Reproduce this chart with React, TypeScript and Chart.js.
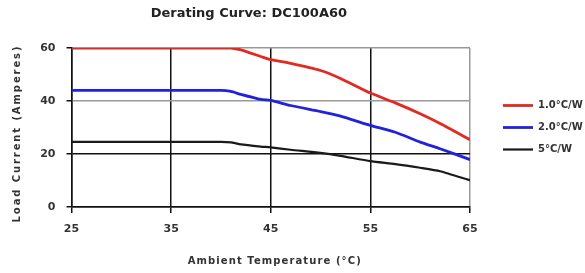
import React, { useEffect, useRef } from "react";
import { Chart, registerables } from "chart.js";

Chart.register(...registerables);

const TITLE = "Derating Curve: DC100A60";
const X_TITLE = "Ambient Temperature (°C)";
const Y_TITLE = "Load Current (Amperes)";

const temps = [25, 35, 40, 41, 42, 44, 45, 47, 50, 52, 55, 57.5, 60, 62, 65];
const series1Label = "1.0°C/W";
const series1 = [60, 60, 60, 60, 59.3, 56.8, 55.6, 54.2, 51.5, 48.5, 43, 39.3, 35.2, 31.5, 25.4];
const series2Label = "2.0°C/W";
const series2 = [44, 44, 44, 43.6, 42.5, 40.6, 40.2, 38.3, 36, 34.3, 30.8, 28.2, 24.5, 22, 17.9];
const series3Label = "5°C/W";
const series3 = [24.6, 24.6, 24.6, 24.4, 23.6, 22.8, 22.5, 21.6, 20.4, 19.3, 17.3, 16.2, 14.8, 13.5, 10.1];

const xTicks = [25, 35, 45, 55, 65];
const yTicks = [0, 20, 40, 60];

const FONT = "'DejaVu Sans', Verdana, sans-serif";

const textPlugin = {
  id: "customTexts",
  afterDraw(chart: any) {
    const { ctx, chartArea } = chart;
    const w = chartArea.right - chartArea.left;
    ctx.save();
    ctx.textAlign = "center";
    ctx.textBaseline = "middle";
    // main title
    ctx.font = `bold 13px ${FONT}`;
    ctx.fillStyle = "#222";
    ctx.fillText(TITLE, chartArea.left + w * 0.445, 14);
    // x axis title
    ctx.font = `bold 10px ${FONT}`;
    (ctx as any).letterSpacing = "1.1px";
    ctx.fillStyle = "#333";
    ctx.fillText(X_TITLE, chartArea.left + w * 0.51, 261);
    // y axis title
    (ctx as any).letterSpacing = "1.9px";
    ctx.translate(17, (chartArea.top + chartArea.bottom) / 2 + 6);
    ctx.rotate(-Math.PI / 2);
    ctx.fillText(Y_TITLE, 0, 0);
    ctx.restore();
  },
};

export default function App() {
  const ref = useRef<HTMLCanvasElement>(null);
  useEffect(() => {
    document.body.style.margin = "0";
    const toPts = (ys: number[]) => temps.map((t, i) => ({ x: t, y: ys[i] }));
    const chart = new Chart(ref.current!, {
      type: "line",
      data: {
        datasets: [
          { label: series1Label, data: toPts(series1), borderColor: "#e02a22", backgroundColor: "#e02a22", borderWidth: 2.8, pointRadius: 0, tension: 0.2, yAxisID: "y" },
          { label: series2Label, data: toPts(series2), borderColor: "#2222dd", backgroundColor: "#2222dd", borderWidth: 2.8, pointRadius: 0, tension: 0.2, yAxisID: "y" },
          { label: series3Label, data: toPts(series3), borderColor: "#1a1a1a", backgroundColor: "#1a1a1a", borderWidth: 2.2, pointRadius: 0, tension: 0.2, yAxisID: "y" },
        ],
      },
      options: {
        responsive: false,
        animation: false,
        layout: { padding: { top: 48, left: 4, right: 0, bottom: 0 } },
        plugins: {
          title: { display: false },
          tooltip: { enabled: false },
          legend: {
            position: "right",
            fullSize: false,
            maxWidth: 94,
            labels: {
              usePointStyle: true,
              pointStyle: "line",
              pointStyleWidth: 30,
              color: "#333",
              font: { family: FONT, size: 10, weight: "bold" },
              padding: 12,
            },
          },
        },
        scales: {
          x: {
            type: "linear",
            min: 25,
            max: 65,
            afterBuildTicks: (s: any) => { s.ticks = xTicks.map((v) => ({ value: v })); },
            afterFit: (s: any) => { s.height = 66; },
            ticks: { color: "#333", font: { family: FONT, size: 11, weight: "bold" }, padding: 10 },
            grid: {
              color: (c: any) => (c.tick && c.tick.value === 65 ? "#999" : "#111"),
              tickColor: "#111",
              lineWidth: 1.5,
              tickLength: 6,
            },
            border: { color: "#111", width: 1.5 },
          },
          y: {
            min: 0,
            max: 60,
            afterBuildTicks: (s: any) => { s.ticks = yTicks.map((v) => ({ value: v })); },
            afterFit: (s: any) => { s.width = 67.5; },
            ticks: { color: "#333", font: { family: FONT, size: 11, weight: "bold" }, padding: 11 },
            grid: {
              color: (c: any) => (c.tick && (c.tick.value === 40 || c.tick.value === 60) ? "#999" : "#111"),
              tickColor: "#111",
              lineWidth: 1.5,
              tickLength: 5,
            },
            border: { color: "#111", width: 1.5 },
          },
          spacer: {
            type: "linear",
            position: "right",
            display: true,
            afterFit: (s: any) => { s.width = 21; },
            ticks: { display: false },
            grid: { display: false, drawOnChartArea: false },
            border: { display: false },
          },
        },
      },
      plugins: [textPlugin],
    });
    return () => chart.destroy();
  }, []);
  return (
    <div style={{ width: 585, height: 273 }}>
      <canvas ref={ref} width={585} height={273} style={{ display: "block" }} />
    </div>
  );
}
